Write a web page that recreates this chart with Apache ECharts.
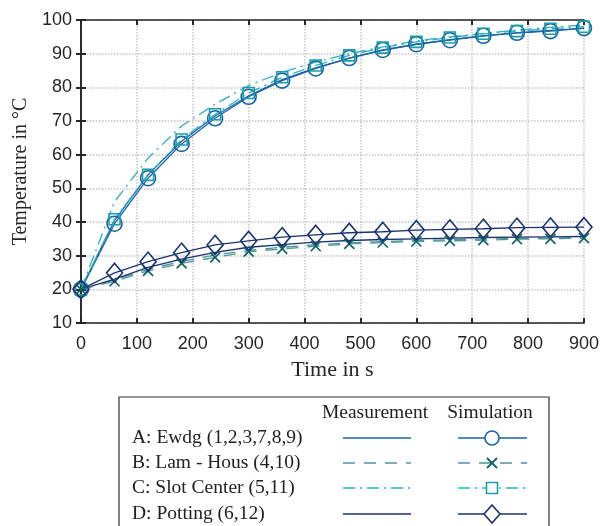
<!DOCTYPE html>
<html>
<head>
<meta charset="utf-8">
<script src="https://cdn.jsdelivr.net/npm/echarts@6/dist/echarts.min.js"></script>
<style>
  html, body { margin: 0; padding: 0; background: #fff; }
  #main { width: 602px; height: 526px; }
</style>
</head>
<body>
<div id="main"></div>
<script>
// time stamps in s
const times = [0, 60, 120, 180, 240, 300, 360, 420, 480, 540, 600, 660, 720, 780, 840, 900];

// measurement (lines only)
const measA = [20, 40.5, 54, 64, 71.5, 77.5, 82.3, 85.8, 88.7, 91, 92.8, 94.2, 95.3, 96.2, 96.9, 97.5];
const measB = [20, 22.8, 26, 28.3, 30.2, 31.6, 32.5, 33.2, 33.8, 34.2, 34.5, 34.7, 34.9, 35.1, 35.2, 35.3];
const measC = [20, 46, 59, 68.5, 75, 80.5, 84.5, 87.5, 90, 92, 93.8, 95, 96, 97, 97.8, 98.5];
const measD = [20, 23, 26.5, 29, 31, 32.5, 33.3, 34, 34.5, 34.8, 35, 35.2, 35.4, 35.5, 35.6, 35.7];

// simulation (lines + markers)
const simA = [20, 39.5, 53, 63.2, 70.8, 77.2, 82, 85.6, 88.7, 91.1, 92.8, 94, 95.3, 96.2, 96.7, 97.6];
const simB = [20, 22.4, 25.5, 27.7, 29.5, 31.2, 32, 32.8, 33.5, 33.9, 34.2, 34.4, 34.6, 34.9, 35, 35.2];
const simC = [20, 40.8, 54, 64.5, 72, 78.3, 83, 86.5, 89.5, 91.8, 93.5, 94.8, 95.9, 96.7, 97.4, 98];
const simD = [20, 24.9, 28.2, 30.9, 33.2, 34.4, 35.5, 36.2, 36.8, 37.1, 37.6, 37.8, 38, 38.3, 38.4, 38.5];

const rowLabels = ['A: Ewdg (1,2,3,7,8,9)', 'B: Lam - Hous (4,10)', 'C: Slot Center (5,11)', 'D: Potting (6,12)'];

const cA = '#1862a8', cB = '#4b9696', cBm = '#0e6262', cC = '#2ab2ba', cCm = '#1a9ea8', cD = '#1b3373';
const dashB = [12, 9];
const dashC = [12, 5, 2, 5];
const crossPath = 'path://M0,0L10,10M10,0L0,10';

const pair = (ys) => times.map((t, i) => [t, ys[i]]);

function measSeries(name, ys, color, type) {
  return {
    name, type: 'line', data: pair(ys), symbol: 'none', z: 2,
    lineStyle: { color, width: 1.3, type }
  };
}
function simSeries(name, ys, color, mColor, type, symbol, size) {
  return {
    name, type: 'line', data: pair(ys), symbol, symbolSize: size, z: 3,
    lineStyle: { color, width: 1.3, type },
    itemStyle: { color: 'rgba(0,0,0,0)', borderColor: mColor, borderWidth: 1.6 }
  };
}

const serif = 'Liberation Serif';
const sans = 'Liberation Sans';

// legend table drawn as graphic
const lx0 = 119, ly0 = 397;
const measX = [343, 411], simX = [458, 527], markX = 492;
const rowY = [438, 463, 488, 514];
const legendStyles = [
  { c: cA, m: cA, dash: null, mk: 'circle' },
  { c: cB, m: cBm, dash: dashB, mk: 'cross' },
  { c: cC, m: cCm, dash: dashC, mk: 'square' },
  { c: cD, m: cD, dash: null, mk: 'diamond' }
];
const legFont = '19.5px ' + serif;
const graphics = [
  { type: 'rect', shape: { x: lx0, y: ly0, width: 430, height: 140 },
    style: { fill: '#fff', stroke: '#333', lineWidth: 1.2 } },
  { type: 'text', x: 375, y: 413, style: { text: 'Measurement', font: legFont, fill: '#222', align: 'center', verticalAlign: 'middle' } },
  { type: 'text', x: 490, y: 413, style: { text: 'Simulation', font: legFont, fill: '#222', align: 'center', verticalAlign: 'middle' } }
];
rowLabels.forEach((lab, i) => {
  const s = legendStyles[i], y = rowY[i];
  graphics.push({ type: 'text', x: 132, y, style: { text: lab, font: legFont, fill: '#222', verticalAlign: 'middle' } });
  graphics.push({ type: 'line', shape: { x1: measX[0], y1: y, x2: measX[1], y2: y }, style: { stroke: s.c, lineWidth: 1.3, lineDash: s.dash } });
  graphics.push({ type: 'line', shape: { x1: simX[0], y1: y, x2: simX[1], y2: y }, style: { stroke: s.c, lineWidth: 1.3, lineDash: s.dash } });
  const ms = { fill: '#fff', stroke: s.m, lineWidth: 1.6 };
  if (s.mk === 'circle') graphics.push({ type: 'circle', shape: { cx: markX, cy: y, r: 7 }, style: ms });
  if (s.mk === 'square') graphics.push({ type: 'rect', shape: { x: markX - 5.5, y: y - 5.5, width: 11, height: 11 }, style: ms });
  if (s.mk === 'diamond') graphics.push({ type: 'polygon', shape: { points: [[markX, y - 9], [markX + 8, y], [markX, y + 9], [markX - 8, y]] }, style: ms });
  if (s.mk === 'cross') {
    graphics.push({ type: 'line', shape: { x1: markX - 5, y1: y - 5, x2: markX + 5, y2: y + 5 }, style: { stroke: s.m, lineWidth: 1.8 } });
    graphics.push({ type: 'line', shape: { x1: markX - 5, y1: y + 5, x2: markX + 5, y2: y - 5 }, style: { stroke: s.m, lineWidth: 1.8 } });
  }
});

const axisLine = { show: true, lineStyle: { color: '#262626', width: 1.6 } };
const tick = { show: true, inside: true, length: 5, lineStyle: { color: '#262626', width: 2 } };
const split = { show: true, lineStyle: { color: '#c4c4c4', type: 'dotted', width: 1.5 } };

const chart = echarts.init(document.getElementById('main'));
chart.setOption({
  animation: false,
  backgroundColor: '#fff',
  grid: { left: 81, top: 20, width: 505, height: 303, containLabel: false },
  xAxis: [
    {
      type: 'value', min: 0, max: 900, interval: 100, position: 'bottom',
      name: 'Time in s', nameLocation: 'middle', nameGap: 36,
      nameTextStyle: { fontFamily: serif, fontSize: 22, color: '#262626' },
      axisLine, axisTick: tick, splitLine: split,
      axisLabel: { fontFamily: sans, fontSize: 18, color: '#262626', margin: 12 }
    },
    {
      type: 'value', min: 0, max: 900, interval: 100, position: 'top',
      axisLine, axisTick: tick, splitLine: { show: false }, axisLabel: { show: false }
    }
  ],
  yAxis: [
    {
      type: 'value', min: 10, max: 100, interval: 10, position: 'left',
      name: 'Temperature in °C', nameLocation: 'middle', nameGap: 50,
      nameTextStyle: { fontFamily: serif, fontSize: 20, color: '#262626' },
      axisLine, axisTick: tick, splitLine: split,
      axisLabel: { fontFamily: sans, fontSize: 18, color: '#262626', margin: 9 }
    },
    {
      type: 'value', min: 10, max: 100, interval: 10, position: 'right',
      axisLine, axisTick: tick, splitLine: { show: false }, axisLabel: { show: false }
    }
  ],
  series: [
    measSeries('A meas', measA, cA, 'solid'),
    measSeries('B meas', measB, cB, dashB),
    measSeries('C meas', measC, cC, dashC),
    measSeries('D meas', measD, cD, 'solid'),
    simSeries('A sim', simA, cA, cA, 'solid', 'circle', 15),
    simSeries('B sim', simB, cB, cBm, dashB, crossPath, 10),
    simSeries('C sim', simC, cC, cCm, dashC, 'rect', 11),
    simSeries('D sim', simD, cD, cD, 'solid', 'diamond', [16, 19])
  ],
  graphic: graphics
});
</script>
</body>
</html>
